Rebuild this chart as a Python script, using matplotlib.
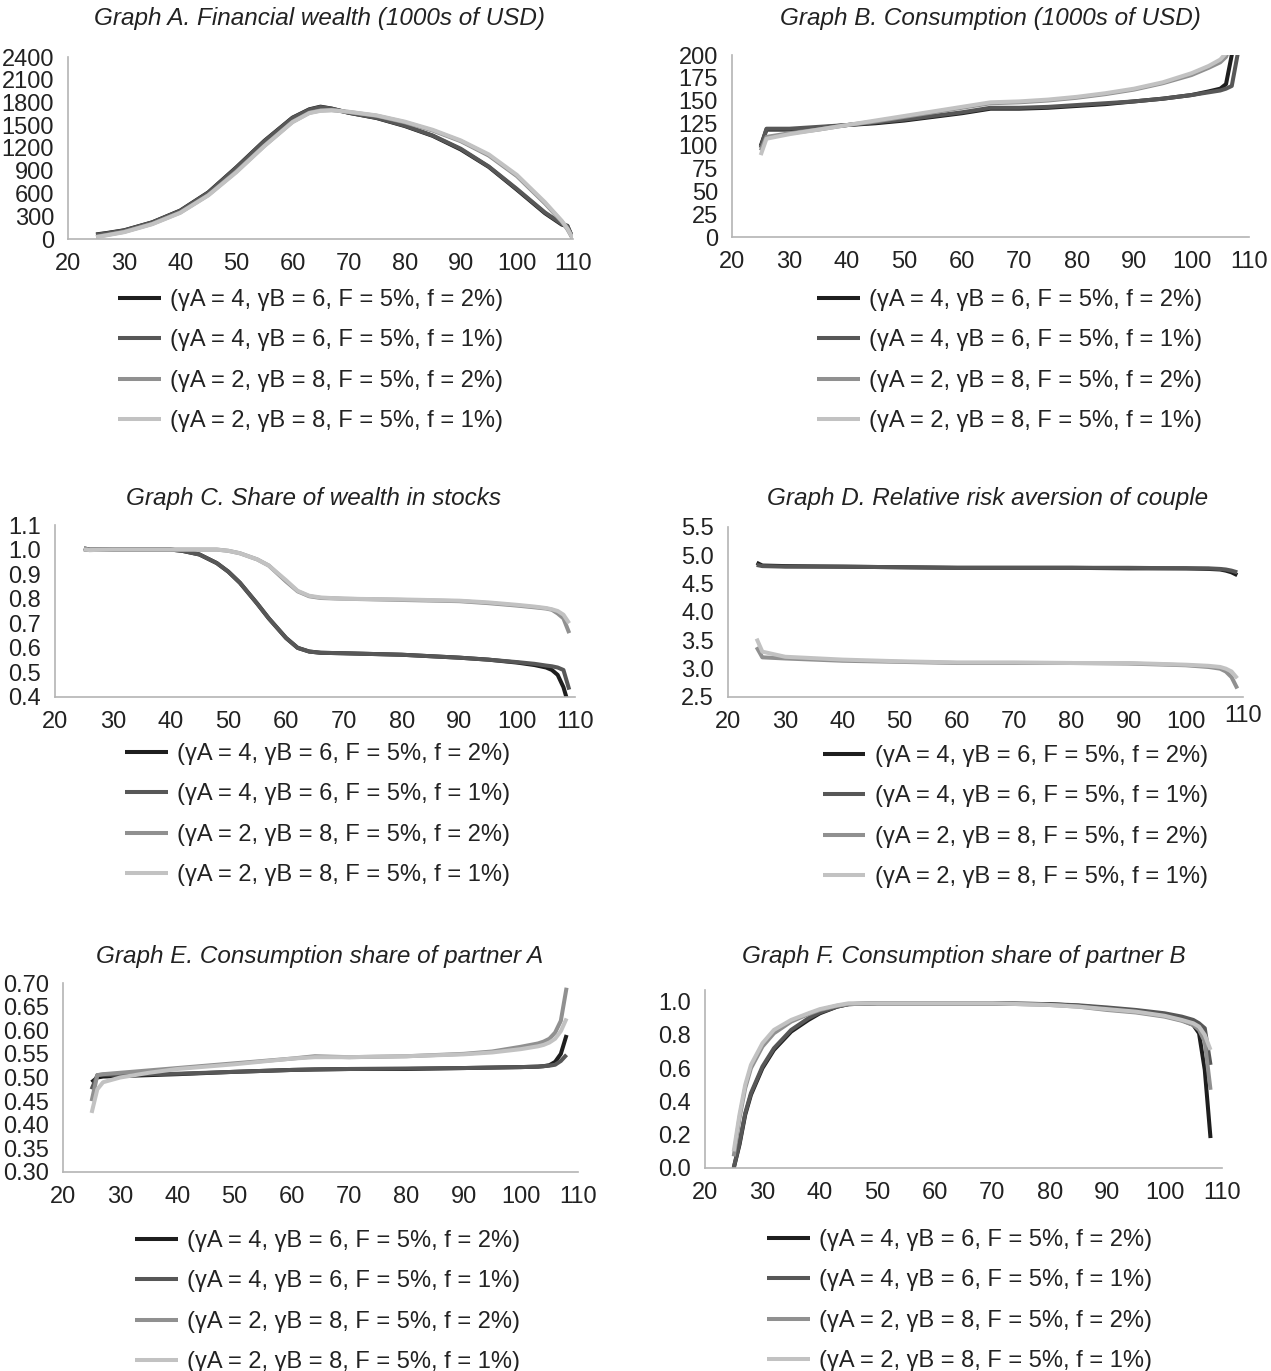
import matplotlib
matplotlib.use("Agg")
import matplotlib.pyplot as plt
import numpy as np

plt.rcParams.update({
    "font.family": ["Liberation Sans", "DejaVu Sans"],
    "font.size": 17,
    "axes.linewidth": 1.2,
    "axes.edgecolor": "#b4b4b4",
    "xtick.color": "#222222",
    "ytick.color": "#222222",
    "text.color": "#222222",
})

W, H = 1271, 1371

labels = [
    "(γA = 4, γB = 6, F = 5%, f = 2%)",
    "(γA = 4, γB = 6, F = 5%, f = 1%)",
    "(γA = 2, γB = 8, F = 5%, f = 2%)",
    "(γA = 2, γB = 8, F = 5%, f = 1%)",
]
colors = ["#1e1e1e", "#575757", "#909090", "#c2c2c2"]

# Graph A: financial wealth
ages_a = [25, 27, 30, 35, 40, 45, 50, 55, 60, 63, 65, 67, 70, 75, 80, 85, 90, 95, 100, 105, 108, 109, 110]
a1 = [60, 80, 115, 220, 375, 615, 945, 1295, 1600, 1710, 1745, 1720, 1665, 1595, 1490, 1360, 1180, 950, 650, 340, 190, 170, 0]
a2 = [55, 76, 112, 218, 372, 610, 940, 1290, 1595, 1705, 1740, 1718, 1665, 1598, 1495, 1365, 1190, 955, 660, 350, 200, 175, 0]
a3 = [30, 55, 95, 200, 350, 580, 890, 1230, 1545, 1665, 1695, 1700, 1675, 1625, 1540, 1430, 1290, 1100, 830, 470, 230, 130, 0]
a4 = [25, 50, 90, 195, 345, 575, 880, 1225, 1540, 1660, 1690, 1698, 1678, 1630, 1548, 1440, 1300, 1115, 845, 485, 240, 140, 0]

# Graph B: consumption
ages_b = [25, 26, 30, 35, 40, 45, 50, 55, 60, 64, 65, 70, 75, 80, 85, 90, 95, 100, 103, 105, 106, 107, 108, 109]
b1 = [100, 118, 118, 120, 123, 125, 128, 132, 136, 140, 141, 141, 142, 144, 146, 149, 152, 156, 160, 163, 168, 200, 230, 240]
b2 = [98, 119, 119, 121, 123, 126, 129, 133, 137, 141, 142, 142, 143, 145, 147, 149, 152, 156, 159, 161, 163, 166, 200, 240]
b3 = [95, 110, 114, 118, 123, 127, 132, 137, 142, 146, 147, 148, 150, 153, 157, 162, 169, 178, 186, 192, 198, 215, 230, 240]
b4 = [90, 108, 113, 118, 123, 128, 133, 138, 143, 147, 148, 149, 151, 154, 158, 163, 170, 180, 188, 195, 202, 225, 240, 250]

# Graph C: share of wealth in stocks
ages_c = [25, 26, 30, 35, 40, 42, 45, 48, 50, 52, 55, 57, 60, 62, 64, 66, 70, 80, 90, 95, 100, 103, 105, 106, 107, 108, 109]
c1 = [1.005, 1.0, 1.0, 1.0, 1.0, 0.995, 0.98, 0.945, 0.91, 0.865, 0.78, 0.72, 0.64, 0.60, 0.585, 0.58, 0.578, 0.572, 0.56, 0.552, 0.54, 0.53, 0.52, 0.51, 0.49, 0.44, 0.36]
c2 = [1.0, 0.998, 1.0, 1.0, 1.0, 0.995, 0.98, 0.945, 0.91, 0.865, 0.78, 0.72, 0.64, 0.60, 0.585, 0.58, 0.578, 0.572, 0.56, 0.552, 0.542, 0.535, 0.528, 0.525, 0.52, 0.51, 0.43]
c3 = [1.005, 1.0, 1.0, 1.0, 1.0, 1.0, 1.0, 1.0, 0.995, 0.985, 0.96, 0.935, 0.87, 0.83, 0.81, 0.803, 0.80, 0.795, 0.79, 0.782, 0.772, 0.765, 0.76, 0.755, 0.74, 0.72, 0.66]
c4 = [1.0, 0.998, 1.0, 1.0, 1.0, 1.0, 1.0, 1.0, 0.995, 0.985, 0.96, 0.935, 0.875, 0.832, 0.812, 0.805, 0.80, 0.797, 0.792, 0.785, 0.775, 0.768, 0.762, 0.757, 0.75, 0.735, 0.70]

# Graph D: relative risk aversion of couple
ages_d = [25, 26, 30, 40, 50, 60, 70, 80, 90, 100, 104, 106, 107, 108, 109]
d1 = [4.87, 4.82, 4.81, 4.80, 4.79, 4.78, 4.78, 4.78, 4.77, 4.77, 4.76, 4.75, 4.73, 4.70, 4.65]
d2 = [4.83, 4.81, 4.80, 4.80, 4.79, 4.78, 4.78, 4.78, 4.78, 4.77, 4.77, 4.76, 4.75, 4.73, 4.70]
d3 = [3.38, 3.20, 3.18, 3.14, 3.12, 3.10, 3.10, 3.10, 3.09, 3.06, 3.03, 3.00, 2.95, 2.85, 2.65]
d4 = [3.53, 3.30, 3.21, 3.16, 3.13, 3.11, 3.11, 3.10, 3.10, 3.07, 3.05, 3.03, 3.00, 2.95, 2.83]

# Graph E: consumption share of partner A
ages_e = [25, 26, 27, 30, 35, 40, 50, 60, 64, 70, 80, 90, 95, 100, 103, 104, 105, 106, 107, 108]
e1 = [0.490, 0.500, 0.502, 0.503, 0.505, 0.507, 0.512, 0.516, 0.517, 0.518, 0.518, 0.520, 0.521, 0.522, 0.523, 0.524, 0.526, 0.533, 0.55, 0.59]
e2 = [0.475, 0.505, 0.506, 0.506, 0.507, 0.508, 0.512, 0.516, 0.517, 0.518, 0.519, 0.520, 0.521, 0.522, 0.523, 0.524, 0.525, 0.527, 0.535, 0.548]
e3 = [0.450, 0.505, 0.507, 0.510, 0.515, 0.520, 0.530, 0.540, 0.545, 0.543, 0.545, 0.550, 0.555, 0.565, 0.572, 0.576, 0.582, 0.595, 0.62, 0.69]
e4 = [0.425, 0.475, 0.490, 0.500, 0.510, 0.518, 0.528, 0.540, 0.543, 0.543, 0.545, 0.549, 0.553, 0.560, 0.566, 0.569, 0.574, 0.582, 0.598, 0.625]

# Graph F: consumption share of partner B
ages_f = [25, 26, 27, 28, 30, 32, 35, 38, 40, 43, 45, 50, 60, 70, 80, 85, 90, 95, 100, 103, 105, 106, 107, 108]
f1 = [0.0, 0.14, 0.32, 0.44, 0.60, 0.71, 0.82, 0.89, 0.93, 0.97, 0.985, 0.99, 0.99, 0.99, 0.985, 0.975, 0.96, 0.945, 0.92, 0.89, 0.86, 0.81, 0.59, 0.18]
f2 = [0.0, 0.15, 0.33, 0.45, 0.61, 0.72, 0.83, 0.90, 0.935, 0.97, 0.985, 0.99, 0.99, 0.99, 0.985, 0.978, 0.965, 0.95, 0.93, 0.91, 0.89, 0.87, 0.84, 0.62]
f3 = [0.07, 0.30, 0.48, 0.60, 0.73, 0.81, 0.88, 0.925, 0.95, 0.975, 0.985, 0.99, 0.99, 0.99, 0.98, 0.97, 0.95, 0.935, 0.91, 0.885, 0.86, 0.83, 0.76, 0.47]
f4 = [0.10, 0.32, 0.50, 0.62, 0.75, 0.83, 0.89, 0.93, 0.955, 0.978, 0.99, 0.99, 0.99, 0.99, 0.98, 0.97, 0.955, 0.94, 0.915, 0.89, 0.87, 0.85, 0.80, 0.71]


def px_rect(left, right, top, bottom):
    return [left / W, 1 - bottom / H, (right - left) / W, (bottom - top) / H]


def panel(fig, rect, title, title_xy, ages, series, ylim, yticks, yfmt, leg_xy):
    ax = fig.add_axes(px_rect(*rect))
    for vals, col, lab in zip(series, colors, labels):
        ax.plot(ages, vals, color=col, lw=2.9, label=lab, solid_capstyle="butt")
    ax.set_xlim(20, 110)
    ax.set_ylim(*ylim)
    ax.set_xticks(np.arange(20, 111, 10))
    ax.set_yticks(yticks)
    ax.set_yticklabels([yfmt.format(v) for v in yticks])
    ax.tick_params(length=0, pad=10, labelsize=17)
    ax.spines["top"].set_visible(False)
    ax.spines["right"].set_visible(False)

    fig.text(title_xy[0] / W, 1 - title_xy[1] / H, title, ha="center", va="center",
             fontsize=17.5, style="italic")

    ax.legend(loc="upper left", bbox_to_anchor=(leg_xy[0] / W, 1 - leg_xy[1] / H),
              bbox_transform=fig.transFigure, frameon=False, fontsize=17,
              handlelength=1.8, handletextpad=0.4, labelspacing=0.78, borderpad=0,
              borderaxespad=0)
    return ax


fig = plt.figure(figsize=(W / 100, H / 100), dpi=100)

panel(fig, (68, 573, 57, 239), "Graph A. Financial wealth (1000s of USD)", (320, 18),
      ages_a, [a1, a2, a3, a4], (0, 2400), np.arange(0, 2401, 300), "{:.0f}", (118, 289))
panel(fig, (732, 1249, 55, 237), "Graph B. Consumption (1000s of USD)", (990, 18),
      ages_b, [b1, b2, b3, b4], (0, 200), np.arange(0, 201, 25), "{:.0f}", (817, 289))
panel(fig, (55, 575, 525, 697), "Graph C. Share of wealth in stocks", (314, 498),
      ages_c, [c1, c2, c3, c4], (0.4, 1.1), np.round(np.arange(0.4, 1.11, 0.1), 2), "{:.1f}", (125, 743))
axd = panel(fig, (728, 1243, 527, 697), "Graph D. Relative risk aversion of couple", (988, 498),
            ages_d, [d1, d2, d3, d4], (2.5, 5.5), np.arange(2.5, 5.51, 0.5), "{:.1f}", (823, 745))
panel(fig, (63, 578, 983, 1172), "Graph E. Consumption share of partner A", (320, 957),
      ages_e, [e1, e2, e3, e4], (0.3, 0.7), np.round(np.arange(0.30, 0.701, 0.05), 2), "{:.2f}", (135, 1230))
panel(fig, (705, 1222, 990, 1168), "Graph F. Consumption share of partner B", (964, 957),
      ages_f, [f1, f2, f3, f4], (0, 1.07), np.round(np.arange(0, 1.01, 0.2), 1), "{:.1f}", (767, 1229))

# the last age label of graph D sits a little higher in the original
axd.xaxis.get_major_ticks()[-1].set_pad(6)

fig.savefig("out.png", dpi=100)
